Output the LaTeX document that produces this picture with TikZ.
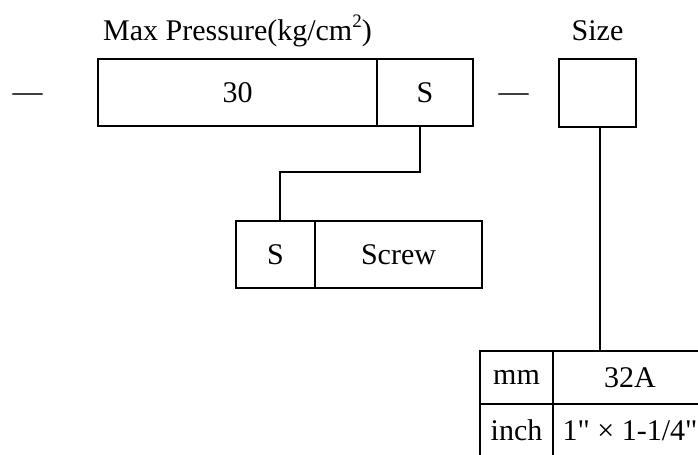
\documentclass[tikz,border=0pt]{standalone}
\usepackage{fontspec}
\setmainfont{Liberation Serif}[Ligatures=TeXOff]
\usepackage{tikz}
\usetikzlibrary{positioning,calc}

\begin{document}
\begin{tikzpicture}[x=0.5pt,y=-0.5pt, every node/.style={font=\fontsize{15}{18}\selectfont},
  cell/.style={draw,line width=0.9pt,inner sep=0pt,outer sep=0pt,minimum height=33.5pt},
  row/.style={draw,line width=0.9pt,inner sep=0pt,outer sep=0pt,minimum height=26.5pt},
  link/.style={line width=1.3pt}]
  \useasboundingbox (0,0) rectangle (698,455);
  \clip (0,0) rectangle (698,455);
  % model code row
  \node[anchor=base] (dashL) at (27.5,101) {—};
  \node[cell,minimum width=139.5pt] (pres) at (237.5,92.5) {30};
  \node[cell,minimum width=48pt,anchor=west] (conn) at (pres.east) {S};
  \node[anchor=base] (dashM) at (513.5,101) {—};
  \node[cell,minimum width=38.5pt,minimum height=34pt] (size) at (597.5,93) {};
  \node[anchor=base] (preslbl) at (237.5,40) {Max Pressure(kg/cm\raisebox{0.42em}{\fontsize{9.5}{10}\selectfont 2})};
  \node[anchor=base] (sizelbl) at (597.5,40) {Size};
  % connection type
  \node[cell,minimum width=39.5pt] (scrS) at (275.5,254.5) {S};
  \node[cell,minimum width=83.5pt,anchor=west] (scrTxt) at (scrS.east) {Screw};
  % size table
  \node[row,minimum width=36.5pt] (mm) at (516.5,377.5) {mm};
  \node[row,minimum width=77pt,anchor=west] (mmval) at (mm.east) {32A};
  \node[row,minimum width=36.5pt] (inch) at (516.5,430.5) {inch};
  \node[row,minimum width=77pt,anchor=west] (inchval) at (inch.east) {1" × 1-1/4"};
  \coordinate (bend) at (0,172);
  \coordinate (connout) at ($(conn.south)+(-5,0)$);
  \coordinate (scrin) at ($(scrS.north)+(4.5,0)$);
  \coordinate (sizeout) at ($(size.south)+(2.5,0)$);
  \draw[link] (connout) |- (scrin |- bend) -- (scrin);
  \draw[link] (sizeout) -- (sizeout |- mmval.north);
\end{tikzpicture}
\end{document}
